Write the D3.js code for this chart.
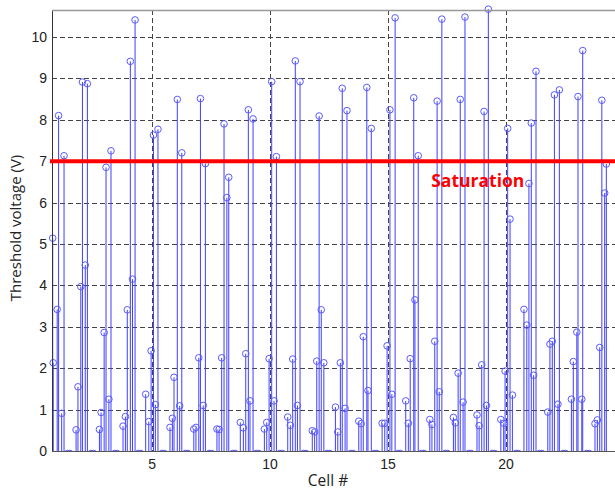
<!DOCTYPE html>
<html><head><meta charset="utf-8">
<script src="https://cdn.jsdelivr.net/npm/d3@7"></script>
<style>
html,body{margin:0;padding:0;background:#fff;}
svg{display:block;}
</style></head>
<body>
<svg id="chart" width="615" height="491"></svg>
<script>
// ---- data ----
const cellNum = [
 0.79,0.81,0.98,1.04,1.17,1.27,
 1.78,1.86,1.98,2.05,2.17,2.26,
 2.77,2.84,2.97,3.05,3.17,3.26,
 3.77,3.87,3.95,4.08,4.17,4.28,
 4.73,4.86,4.96,5.06,5.14,5.25,
 5.76,5.86,5.93,6.07,6.17,6.26,
 6.77,6.86,6.98,7.05,7.17,7.26,
 7.75,7.84,7.95,8.05,8.17,8.25,
 8.74,8.87,8.97,9.08,9.15,9.28,
 9.76,9.86,9.96,10.07,10.17,10.27,
 10.75,10.86,10.96,11.07,11.16,11.27,
 11.79,11.89,11.98,12.08,12.17,12.28,
 12.77,12.87,12.98,13.06,13.18,13.26,
 13.76,13.86,13.95,14.10,14.15,14.29,
 14.75,14.86,14.96,15.08,15.16,15.30,
 15.75,15.86,15.94,16.09,16.14,16.28,
 16.77,16.86,16.98,17.08,17.17,17.28,
 17.77,17.85,17.97,18.06,18.18,18.26,
 18.77,18.86,18.97,19.07,19.17,19.25,
 19.78,19.90,19.96,20.07,20.17,20.27,
 20.76,20.88,20.97,21.07,21.17,21.27,
 21.77,21.86,21.96,22.05,22.20,22.26,
 22.77,22.85,23.00,23.05,23.21,23.25,
 23.77,23.87,23.97,24.06,24.18,24.25
];
const voltage = [
 5.14,2.13,3.42,8.10,0.91,7.13,
 0.51,1.55,3.97,8.91,4.49,8.87,
 0.52,0.93,2.86,6.85,1.25,7.25,
 0.60,0.83,3.41,9.41,4.15,10.41,
 1.37,0.71,2.42,7.63,1.12,7.77,
 0.57,0.79,1.78,8.49,1.09,7.20,
 0.53,0.57,2.25,8.51,1.10,6.94,
 0.53,0.52,2.25,7.90,6.12,6.61,
 0.69,0.56,2.35,8.24,1.21,8.02,
 0.53,0.69,2.23,8.92,1.21,7.11,
 0.82,0.62,2.22,9.42,1.10,8.92,
 0.49,0.46,2.17,8.09,3.41,2.13,
 1.06,0.46,2.13,8.76,1.03,8.22,
 0.72,0.66,2.76,8.78,1.46,7.79,
 0.67,0.67,2.54,8.24,1.37,10.46,
 1.21,0.67,2.23,8.53,3.65,7.13,
 0.76,0.64,2.65,8.45,1.43,10.43,
 0.81,0.68,1.88,8.49,1.18,10.48,
 0.87,0.61,2.08,8.20,1.10,10.67,
 0.76,0.67,1.93,7.79,5.60,1.35,
 3.42,3.04,6.46,7.92,1.83,9.17,
 0.94,2.58,2.65,8.60,1.13,8.72,
 1.25,2.16,2.87,8.56,1.25,9.67,
 0.66,0.75,2.50,8.47,6.23,6.93
];
// readings lying on the baseline between the clusters
const baseNum = [
 1.42,1.52, 2.42,2.52, 3.42,3.52, 4.42,4.52, 5.42,5.52, 6.42,6.52,
 7.42,7.52, 8.42,8.52, 9.42,9.52, 10.42,10.52, 11.42,11.52, 12.42,12.52,
 13.42,13.52, 14.42,14.52, 15.42,15.52, 16.42,16.52, 17.42,17.52, 18.42,18.52,
 19.42,19.52, 20.42,20.52, 21.42,21.52, 22.42,22.52, 23.42,23.52
];
const baseVolt = baseNum.map(() => -0.06);
const saturationLevel = 7;
const xTicks = [5, 10, 15, 20];
const yTicks = [0,1,2,3,4,5,6,7,8,9,10];
const xTitle = "Cell #";
const yTitle = "Threshold voltage (V)";
const satLabel = "Saturation";

// ---- layout ----
const svg = d3.select("#chart");
const L = 52, T = 10, B = 451, R = 616;
const x = d3.scaleLinear().domain([0.76, 24.66]).range([L, R]);
const y = d3.scaleLinear().domain([0, 10.65]).range([B, T]);

svg.append("defs").append("clipPath").attr("id","plotclip")
  .append("rect").attr("x", L).attr("y", T - 10).attr("width", R - L + 10).attr("height", B - T + 10);

// grid
const grid = svg.append("g");
grid.selectAll("line.gy").data(yTicks.filter(d => d > 0)).join("line")
  .attr("x1", L).attr("x2", R)
  .attr("y1", d => Math.round(y(d)) + 0.5).attr("y2", d => Math.round(y(d)) + 0.5)
  .attr("stroke", "#444").attr("stroke-width", 1).attr("stroke-dasharray", "5,3");
grid.selectAll("line.gx").data(xTicks).join("line")
  .attr("y1", T).attr("y2", B)
  .attr("x1", d => Math.round(x(d)) + 0.5).attr("x2", d => Math.round(x(d)) + 0.5)
  .attr("stroke", "#444").attr("stroke-width", 1).attr("stroke-dasharray", "5,3");

// stems
const pts = cellNum.map((c, i) => ({c, v: voltage[i]}));
const stems = svg.append("g");
stems.selectAll("line").data(pts).join("line")
  .attr("x1", d => x(d.c)).attr("x2", d => x(d.c))
  .attr("y1", y(0)).attr("y2", d => y(d.v))
  .attr("stroke", "#3f3fff").attr("stroke-width", 1);
stems.selectAll("circle").data(pts).join("circle")
  .attr("cx", d => x(d.c)).attr("cy", d => y(d.v)).attr("r", 3.3)
  .attr("fill", "none").attr("stroke", "#5a5aff").attr("stroke-width", 1);

// baseline readings (markers sit at the axis)
const basePts = baseNum.map((c, i) => ({c, v: baseVolt[i]}));
svg.append("g").attr("clip-path", "url(#plotclip)")
  .selectAll("circle").data(basePts).join("circle")
  .attr("cx", d => x(d.c)).attr("cy", d => y(d.v)).attr("r", 3.3)
  .attr("fill", "none").attr("stroke", "#5a5aff").attr("stroke-width", 1);

// axes box
svg.append("line").attr("x1", L + 0.5).attr("x2", L + 0.5).attr("y1", T).attr("y2", B + 0.5)
  .attr("stroke", "#333").attr("stroke-width", 1);
svg.append("line").attr("x1", L).attr("x2", R).attr("y1", B + 0.5).attr("y2", B + 0.5)
  .attr("stroke", "#555").attr("stroke-width", 1);
svg.append("line").attr("x1", L).attr("x2", R).attr("y1", T + 0.5).attr("y2", T + 0.5)
  .attr("stroke", "#999").attr("stroke-width", 1.5);

// saturation line
svg.append("line").attr("x1", L - 2).attr("x2", R)
  .attr("y1", y(saturationLevel)).attr("y2", y(saturationLevel))
  .attr("stroke", "#ff0000").attr("stroke-width", 4);
svg.append("text").attr("x", x(16.83)).attr("y", y(saturationLevel) + 26)
  .attr("font-family", "'Open Sans', sans-serif").attr("font-weight", "bold")
  .attr("font-size", "17.5px").attr("fill", "#ff0000").text(satLabel);

// tick labels
svg.append("g").selectAll("text").data(yTicks).join("text")
  .attr("x", L - 5).attr("y", d => y(d)).attr("dy", "0.36em")
  .attr("text-anchor", "end").attr("font-family", "'Liberation Sans', Arial, sans-serif")
  .attr("font-size", "14px").attr("fill", "#222").text(d => d);
svg.append("g").selectAll("text").data(xTicks).join("text")
  .attr("x", d => x(d)).attr("y", B + 18)
  .attr("text-anchor", "middle").attr("font-family", "'Liberation Sans', Arial, sans-serif")
  .attr("font-size", "14px").attr("fill", "#222").text(d => d);

// axis titles
svg.append("text").attr("x", 328).attr("y", 486).attr("text-anchor", "middle")
  .attr("font-family", "'Open Sans', sans-serif").attr("font-size", "15.5px").attr("fill", "#222")
  .text(xTitle);
svg.append("text").attr("transform", "translate(21,228) rotate(-90)").attr("text-anchor", "middle")
  .attr("font-family", "'Open Sans', sans-serif").attr("font-size", "15px").attr("fill", "#222")
  .text(yTitle);
</script>
</body></html>
